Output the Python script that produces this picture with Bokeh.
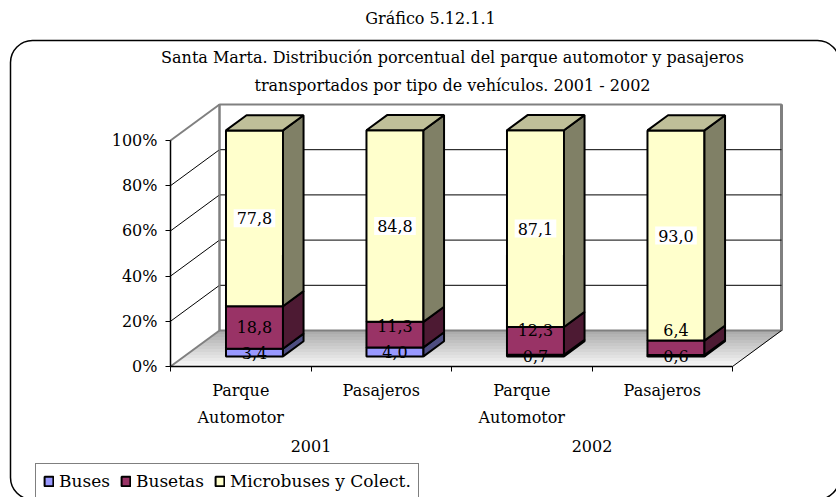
from bokeh.plotting import figure
from bokeh.models import (Range1d, FixedTicker, PrintfTickFormatter, LinearAxis,
                          Label, BoxAnnotation)
from bokeh.core.properties import value
from bokeh.embed import file_html
from bokeh.resources import INLINE

# ---------------- data ----------------
categories = ["Parque\nAutomotor", "Pasajeros", "Parque\nAutomotor", "Pasajeros"]
years = ["2001", "2002"]
series_names = ["Buses", "Busetas", "Microbuses y Colect."]
buses = [3.4, 4.0, 0.7, 0.6]
busetas = [18.8, 11.3, 12.3, 6.4]
microbuses = [77.8, 84.8, 87.1, 93.0]
y_ticks = [0, 20, 40, 60, 80, 100]
header = "Gráfico 5.12.1.1"
title_line1 = "Santa Marta. Distribución porcentual del parque automotor y pasajeros"
title_line2 = "transportados por tipo de vehículos. 2001 - 2002"

# ---------------- styling / layout ----------------
FONT = "DejaVu Serif"
front_colors = ["#9999FF", "#993366", "#FFFFCC"]
side_colors = ["#4D4D80", "#4D1A33", "#808066"]
top_color = "#BFBF99"
grid_gray = "#808080"

W, H = 836, 497
AX_X = 170        # pixel x of the front value axis
AX_Y0 = 366       # pixel y of 0 %
PX_PER_CAT = 140.5
PX_PER_PCT = 2.26
DEPTH_DX = 49
DEPTH_DY = 36
BAR_W = 57 / PX_PER_CAT
BAR_F0 = 0.28     # depth fraction of bar front
BAR_DEPTH = 0.42  # depth fraction occupied by bar

ddx = DEPTH_DX / PX_PER_CAT
ddy = DEPTH_DY / PX_PER_PCT


def X(px):
    return (px - AX_X) / PX_PER_CAT


def Y(py):
    return (AX_Y0 - py) / PX_PER_PCT


p = figure(width=W, height=H, x_range=Range1d(X(0), X(W)), y_range=Range1d(Y(H), Y(0)),
           output_backend="svg", toolbar_location=None, min_border=0)
p.xgrid.visible = False
p.ygrid.visible = False
p.outline_line_color = None
p.background_fill_color = "white"
p.border_fill_color = "white"

n = len(categories)

# ---------------- floor (gradient strips) ----------------
strips = 12
fxs, fys, fcols = [], [], []
for k in range(strips):
    f0, f1 = k / strips, (k + 1) / strips
    fxs.append([f0 * ddx, n + f0 * ddx, n + f1 * ddx, f1 * ddx])
    fys.append([f0 * ddy, f0 * ddy, f1 * ddy, f1 * ddy])
    g = int(250 - (k + 0.5) / strips * 80)
    fcols.append("#%02x%02x%02x" % (g, g, g))
p.patches(fxs, fys, fill_color=fcols, line_color=fcols, line_width=1)

# back wall
p.quad(left=[ddx], right=[n + ddx], bottom=[ddy], top=[100 + ddy],
       fill_color="white", line_color=grid_gray, line_width=2)
p.segment(x0=[n + ddx], y0=[ddy], x1=[n + ddx], y1=[100 + ddy],
          line_color=grid_gray, line_width=3)

inner = y_ticks[1:-1]
p.segment(x0=[ddx] * len(inner), y0=[v + ddy for v in inner],
          x1=[n + ddx] * len(inner), y1=[v + ddy for v in inner],
          line_color="black", line_width=1)
p.segment(x0=[0] * len(inner), y0=inner, x1=[ddx] * len(inner),
          y1=[v + ddy for v in inner], line_color="black", line_width=1)
edge = [y_ticks[0], y_ticks[-1]]
p.segment(x0=[0, 0], y0=edge, x1=[ddx, ddx], y1=[v + ddy for v in edge],
          line_color=grid_gray, line_width=2)
p.segment(x0=[ddx], y0=[ddy], x1=[ddx], y1=[100 + ddy], line_color=grid_gray, line_width=2)
p.segment(x0=[n], y0=[0], x1=[n + ddx], y1=[ddy], line_color="black", line_width=1)

# ---------------- bars ----------------
ox, oy = BAR_F0 * ddx, BAR_F0 * ddy
bdx, bdy = BAR_DEPTH * ddx, BAR_DEPTH * ddy
series = [buses, busetas, microbuses]
cum = [0.0] * n
lab_x, lab_y, lab_t = [], [], []
mic_x, mic_y, mic_t = [], [], []
prev_lab = [None] * n
GAP = 11.5
for s, vals in enumerate(series):
    lefts = [i + 0.5 - BAR_W / 2 + ox for i in range(n)]
    rights = [i + 0.5 + BAR_W / 2 + ox for i in range(n)]
    bottoms = [cum[i] + oy for i in range(n)]
    tops = [cum[i] + vals[i] + oy for i in range(n)]
    p.quad(left=lefts, right=rights, bottom=bottoms, top=tops,
           fill_color=front_colors[s], line_color="black", line_width=2,
           legend_label=series_names[s])
    p.patches([[r, r + bdx, r + bdx, r] for r in rights],
              [[b, b + bdy, t + bdy, t] for b, t in zip(bottoms, tops)],
              fill_color=side_colors[s], line_color="black", line_width=2)
    if s == len(series) - 1:
        p.patches([[l, r, r + bdx, l + bdx] for l, r in zip(lefts, rights)],
                  [[t, t, t + bdy, t + bdy] for t in tops],
                  fill_color=top_color, line_color="black", line_width=2)
    for i in range(n):
        c = cum[i] + vals[i] / 2
        if prev_lab[i] is not None:
            c = max(c, prev_lab[i] + GAP)
        prev_lab[i] = c
        txt = ("%.1f" % vals[i]).replace(".", ",")
        if s == len(series) - 1:
            mic_x.append(i + 0.5 + ox); mic_y.append(c + oy); mic_t.append(txt)
        else:
            lab_x.append(i + 0.5 + ox); lab_y.append(c + oy); lab_t.append(txt)
    cum = [cum[i] + vals[i] for i in range(n)]

p.text(x=lab_x, y=lab_y, text=lab_t, text_font=value(FONT), text_font_size="16px",
       text_align="center", text_baseline="middle", text_color="black")
p.text(x=mic_x, y=mic_y, text=mic_t, text_font=value(FONT), text_font_size="16px",
       text_align="center", text_baseline="middle", text_color="black",
       background_fill_color="white", padding=3)

# ---------------- axes (fixed at the front plane) ----------------
ya = p.yaxis[0]
ya.fixed_location = 0
ya.ticker = FixedTicker(ticks=y_ticks)
ya.formatter = PrintfTickFormatter(format="%d%%")
ya.bounds = (0, 100)
ya.axis_line_color = "black"
ya.axis_line_width = 1.5
ya.major_tick_out = 5
ya.major_tick_in = 0
ya.minor_tick_out = 0
ya.minor_tick_in = 0
ya.major_label_standoff = 8
ya.major_label_text_font = FONT
ya.major_label_text_font_size = "16px"
ya.major_label_text_color = "black"

xa = p.xaxis[0]
xa.fixed_location = 0
centers = [i + 0.5 for i in range(n)]
xa.ticker = FixedTicker(ticks=centers, minor_ticks=list(range(n + 1)))
xa.major_label_overrides = {c: lab for c, lab in zip(centers, categories)}
xa.bounds = (0, n)
xa.axis_line_color = "black"
xa.axis_line_width = 1.5
xa.major_tick_out = 0
xa.major_tick_in = 0
xa.minor_tick_out = 5
xa.minor_tick_in = 0
xa.minor_tick_line_color = "black"
xa.major_label_standoff = 9
xa.major_label_text_font = FONT
xa.major_label_text_font_size = "16px"
xa.major_label_text_line_height = 1.45
xa.major_label_text_color = "black"

group_centers = [2 * g + 1 for g in range(len(years))]
xa2 = LinearAxis(ticker=FixedTicker(ticks=group_centers), fixed_location=0,
                 major_label_overrides={c: y for c, y in zip(group_centers, years)})
xa2.axis_line_color = None
xa2.major_tick_line_color = None
xa2.minor_tick_line_color = None
xa2.major_label_standoff = 67
xa2.major_label_text_font = FONT
xa2.major_label_text_font_size = "16px"
xa2.major_label_text_color = "black"
p.add_layout(xa2, "below")

# ---------------- titles ----------------
for txt, px, py in [(header, 430, 18), (title_line1, 452, 57), (title_line2, 452, 85)]:
    p.add_layout(Label(x=X(px), y=Y(py), text=txt, text_font=FONT, text_font_size="16px",
                       text_align="center", text_baseline="middle", text_color="black"))

# rounded outer border
p.add_layout(BoxAnnotation(left=X(10), right=X(839), top=Y(40), bottom=Y(499),
                           fill_alpha=0, line_color="black", line_alpha=1, line_width=1.5,
                           border_radius=22, level="overlay"))

# ---------------- legend ----------------
lg = p.legend[0]
lg.orientation = "horizontal"
lg.location = (35, -2)
lg.label_text_font = FONT
lg.label_text_font_size = "17px"
lg.label_text_color = "black"
lg.glyph_width = 11
lg.glyph_height = 12
lg.label_standoff = 5
lg.spacing = 10
lg.padding = 7
lg.margin = 0
lg.border_line_color = "black"
lg.border_line_width = 1
lg.background_fill_alpha = 1

open("out.html", "w").write(file_html(p, INLINE))
